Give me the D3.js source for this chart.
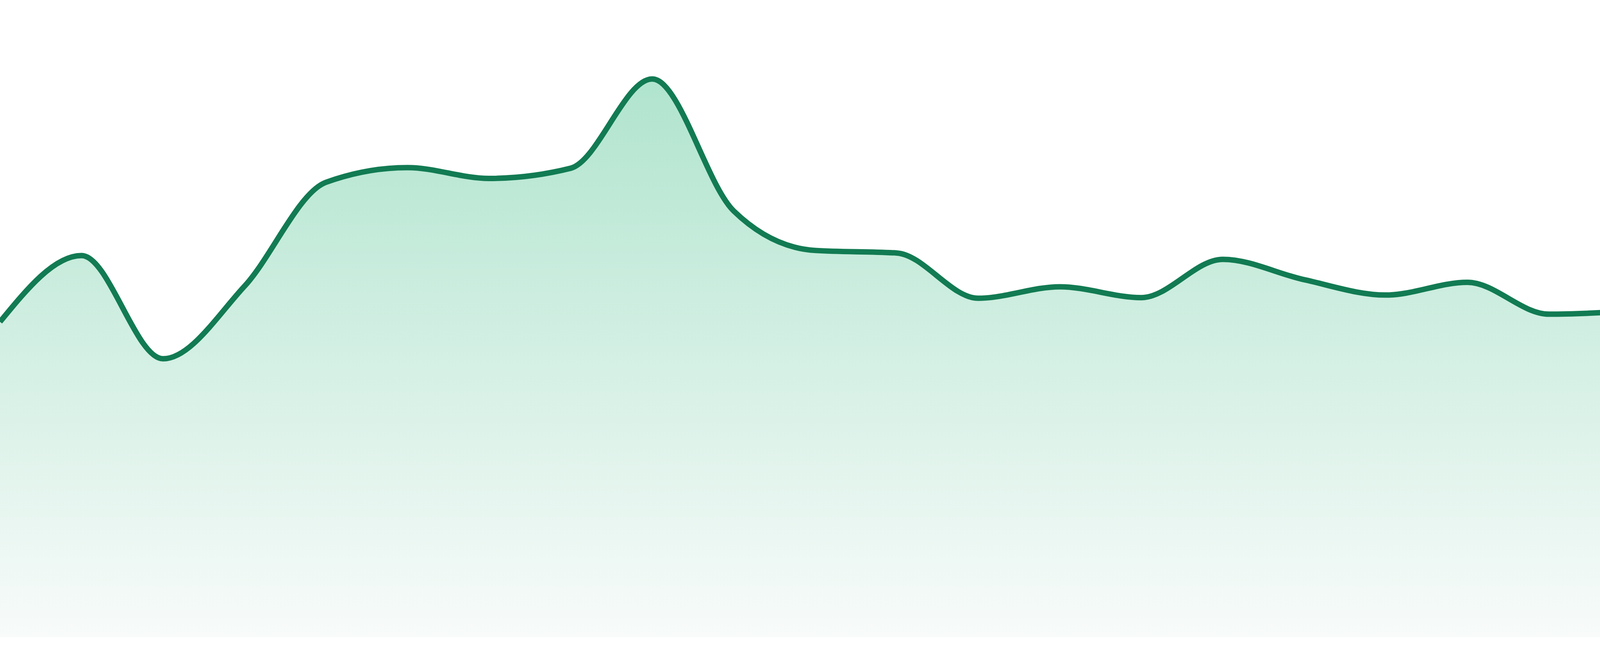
<!DOCTYPE html>
<html>
<head>
<meta charset="utf-8">
<script src="https://cdn.jsdelivr.net/npm/d3@7/dist/d3.min.js"></script>
<style>
	html, body { margin: 0; padding: 0; background: #ffffff; }
	svg { display: block; }
</style>
</head>
<body>
<script>

// one value per step (24 evenly spaced steps)
let steps = d3.range(24);
let values = [49.5, 59.9, 43.7, 55.1, 71.4, 73.7, 72.0, 73.6, 87.6, 66.9, 60.7, 60.3,
	53.2, 55.0, 53.3, 59.3, 56.1, 53.7, 55.7, 50.7, 51.2, 52.3, 51.9, 49.7];

let lineColor = "#127b53";
let fillTop = "#b0e4ce";
let fillBottom = "#f8fbfa";

let svg = d3.select("body").append("svg")
	.attr("width", 4800)
	.attr("height", 1680);

let width = +svg.attr("width");
let height = +svg.attr("height");

let bottom = 1632; //area stops a bit above the page edge

let data = steps.map((s, i) => ({ step: s, value: values[i] }));

let x = d3.scaleLinear()
	.domain([0, steps.length - 1])
	.range([0, width]);

let y = d3.scaleLinear()
	.domain([0, 100])
	.range([bottom, 0]);

//gradient under the line
let grad = svg.append("defs").append("linearGradient")
	.attr("id", "fade")
	.attr("x1", 0).attr("y1", 0)
	.attr("x2", 0).attr("y2", 1);

grad.append("stop").attr("offset", "0%").attr("stop-color", fillTop);
grad.append("stop").attr("offset", "100%").attr("stop-color", fillBottom);

let area = d3.area()
	.x(d => x(d.step))
	.y0(bottom)
	.y1(d => y(d.value))
	.curve(d3.curveMonotoneX);

let line = d3.line()
	.x(d => x(d.step))
	.y(d => y(d.value))
	.curve(d3.curveMonotoneX);

svg.append("path")
	.datum(data)
	.attr("d", area)
	.attr("fill", "url(#fade)");

svg.append("path")
	.datum(data)
	.attr("d", line)
	.attr("fill", "none")
	.attr("stroke", lineColor)
	.attr("stroke-width", 14);

</script>
</body>
</html>
